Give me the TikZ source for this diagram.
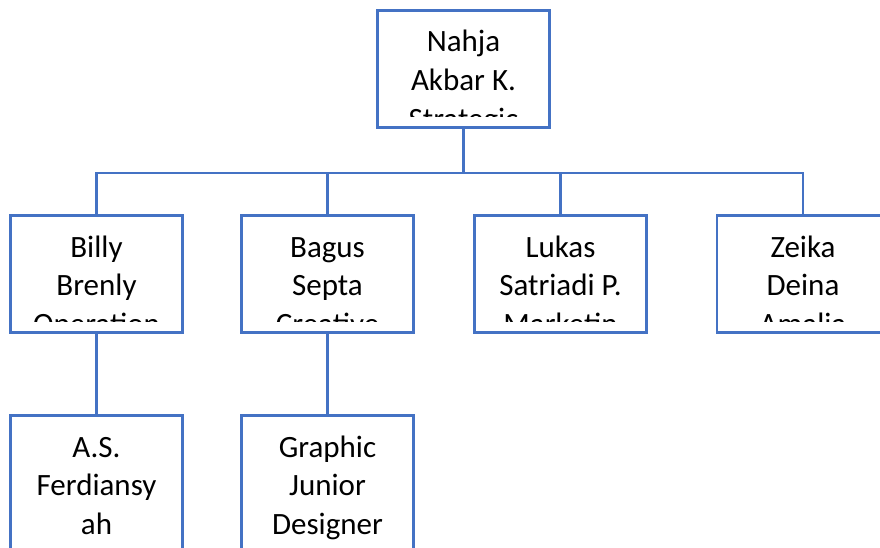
\documentclass[tikz,border=0pt]{standalone}
\usepackage{fontspec}
\setmainfont{Carlito}
\usetikzlibrary{positioning}
\definecolor{boxblue}{HTML}{4472C4}

\tikzset{
  names/.style={anchor=base, align=center, inner sep=0pt,
    font=\fontsize{31}{38.6}\selectfont},
  unit/.style={draw=boxblue, line width=2.6pt, fill=white,
    minimum width=172pt, minimum height=117pt, inner sep=0pt, outer sep=0pt,
    path picture={
      \clip ([yshift=11pt]path picture bounding box.south west) rectangle (path picture bounding box.north east);
      % base is the last of the three lines
      \node[names] at ([yshift=-118.7pt]path picture bounding box.north) {#1};}},
  tall/.style={minimum height=150pt},
  link/.style={draw=boxblue, line width=2.6pt}
}

\begin{document}
\begin{tikzpicture}[x=1pt, y=-1pt]
  \clip (0,0) rectangle (880,548);
  \fill[white] (0,0) rectangle (880,548);

  % top
  \node[unit={Nahja\\Akbar K.\\Strategic}] (nahja) at (463.5,69) {};
  \coordinate (hub) at (463.5,173);

  % second row
  \node[unit={Billy\\Brenly\\Operation}] (billy) at (96.5,274) {};
  \node[unit={Bagus\\Septa\\Creative}] (bagus) at (327.5,274) {};
  \node[unit={Lukas\\Satriadi P.\\Marketin}] (lukas) at (560.5,274) {};
  \node[unit={Zeika\\Deina\\Amalia}] (zeika) at (803,274) {};

  % third row
  \node[unit={A.S.\\Ferdiansy\\ah}, tall] (ferdi) at (96.5,490.5) {};
  \node[unit={Graphic\\Junior\\Designer}, tall] (graphic) at (327.5,490.5) {};

  \draw[link] (nahja) -- (hub);
  \draw[link] (hub) -| (billy);
  \draw[link] (hub) -| (bagus);
  \draw[link] (hub) -| (lukas);
  \draw[link] (hub) -| (zeika);
  \draw[link] (billy) -- (ferdi);
  \draw[link] (bagus) -- (graphic);
\end{tikzpicture}
\end{document}
